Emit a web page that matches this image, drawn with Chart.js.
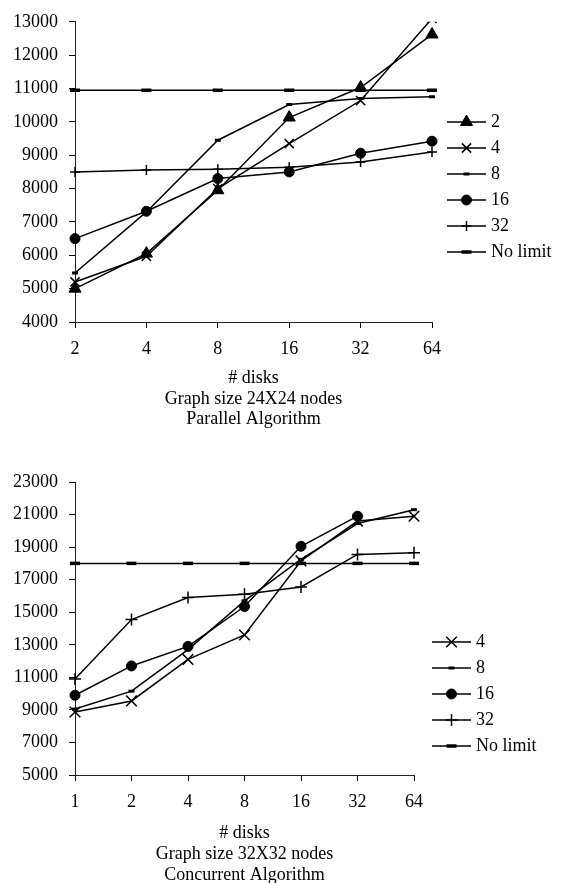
<!DOCTYPE html>
<html>
<head>
<meta charset="utf-8">
<script src="https://cdn.jsdelivr.net/npm/chart.js@4.4.1/dist/chart.umd.min.js"></script>
<style>
  html, body { margin: 0; padding: 0; background: #fff; overflow: hidden; }
  body { width: 563px; height: 883px; position: relative; }
  .box { position: absolute; left: 0; width: 563px; }
  #box1 { top: 0; height: 440px; }
  #box2 { top: 430px; height: 460px; }
</style>
</head>
<body>
<div class="box" id="box1"><canvas id="parallel"></canvas></div>
<div class="box" id="box2"><canvas id="concurrent"></canvas></div>
<script>
// chart 1 - Graph size 24X24 nodes, parallel algorithm
const disks1 = ['2', '4', '8', '16', '32', '64'];
const par2 = [5000, 6050, 7950, 10130, 11030, 12620];
const par4 = [5200, 5970, 8000, 9350, 10640, 13100];
const par8 = [5470, 7300, 9450, 10520, 10700, 10750];
const par16 = [6500, 7320, 8300, 8500, 9060, 9420];
const par32 = [8500, 8560, 8580, 8640, 8800, 9100];
const parNoLimit = [10950, 10950, 10950, 10950, 10950, 10950];
const yTicks1 = [4000, 13000, 1000]; // min, max, step

// chart 2 - Graph size 32X32 nodes, concurrent algorithm
const disks2 = ['1', '2', '4', '8', '16', '32', '64'];
const con4 = [8870, 9550, 12100, 13600, 18150, 20600, 20900];
const con8 = [9050, 10150, 12700, 15700, 18250, 20450, 21300];
const con16 = [9900, 11700, 12900, 15350, 19050, 20900, null];
const con32 = [10900, 14550, 15900, 16100, 16550, 18550, 18650];
const conNoLimit = [18000, 18000, 18000, 18000, 18000, 18000, 18000];
const yTicks2 = [5000, 23000, 2000];

const FONT_FAMILY = '"Liberation Serif", "Times New Roman", serif';
const open = { left: 20, right: 20, top: 20, bottom: 20 };

function series(label, data, pointStyle, radius, pointBorderWidth, clip) {
    return {
        label: label,
        data: data,
        borderColor: '#000',
        backgroundColor: '#000',
        borderWidth: 1.5,
        pointStyle: pointStyle,
        pointRadius: radius,
        pointBorderWidth: pointBorderWidth,
        pointBackgroundColor: '#000',
        pointBorderColor: '#000',
        tension: 0,
        spanGaps: false,
        clip: clip || open
    };
}

// draws legend entries as "line with marker in the middle" like the original
const lineLegend = {
    id: 'lineLegend',
    afterDraw(chart, args, opts) {
        const ctx = chart.ctx;
        ctx.save();
        ctx.font = '18px ' + FONT_FAMILY;
        ctx.textBaseline = 'middle';
        ctx.textAlign = 'left';
        chart.data.datasets.forEach((ds, i) => {
            const y = opts.y + i * opts.gap;
            ctx.strokeStyle = '#000';
            ctx.fillStyle = '#000';
            ctx.lineWidth = 1.5;
            ctx.beginPath();
            ctx.moveTo(opts.x, y);
            ctx.lineTo(opts.x + 39, y);
            ctx.stroke();
            if (Chart.helpers && Chart.helpers.drawPoint) {
                ctx.lineWidth = ds.pointBorderWidth;
                Chart.helpers.drawPoint(ctx, {
                    pointStyle: ds.pointStyle,
                    radius: ds.pointRadius,
                    borderWidth: ds.pointBorderWidth,
                    rotation: 0
                }, opts.x + 19.5, y);
            }
            ctx.fillText(ds.label, opts.x + 44, y);
        });
        ctx.restore();
    }
};

function makeChart(id, labels, datasets, yTicks, geo, titleLines) {
    const ctx = document.getElementById(id).getContext('2d');
    return new Chart(ctx, {
        type: 'line',
        data: { labels: labels, datasets: datasets },
        options: {
            responsive: true,
            maintainAspectRatio: false,
            animation: false,
            events: [],
            layout: { padding: { top: geo.top, right: geo.right, bottom: 0, left: 0 } },
            plugins: {
                legend: { display: false },
                tooltip: { enabled: false },
                lineLegend: { x: geo.legendX, y: geo.legendY, gap: 26 }
            },
            scales: {
                x: {
                    offset: false,
                    grid: { drawOnChartArea: false, color: '#000', tickLength: 6, lineWidth: 1 },
                    border: { color: '#222', width: 1 },
                    ticks: { color: '#000', padding: 10, maxRotation: 0, autoSkip: false,
                             font: { family: FONT_FAMILY, size: 18 } },
                    title: {
                        display: true,
                        text: titleLines,
                        color: '#000',
                        font: { family: FONT_FAMILY, size: 18, lineHeight: 1.15 },
                        padding: { top: 0, bottom: geo.titlePad }
                    },
                    afterFit: scale => { scale.height = geo.xHeight; }
                },
                y: {
                    min: yTicks[0],
                    max: yTicks[1],
                    grid: { drawOnChartArea: false, color: '#000', tickLength: 6, lineWidth: 1 },
                    border: { color: '#222', width: 1 },
                    ticks: { stepSize: yTicks[2], color: '#000', padding: 11,
                             font: { family: FONT_FAMILY, size: 18 },
                             callback: v => String(v) },
                    afterFit: scale => { scale.width = 75; }
                }
            }
        },
        plugins: [lineLegend]
    });
}

makeChart('parallel', disks1, [
    series('2', par2, 'triangle', 7, 1),
    series('4', par4, 'crossRot', 6.5, 1.5, { left: 20, right: 20, top: 0, bottom: 20 }),
    series('8', par8, 'line', 3, 3),
    series('16', par16, 'circle', 5, 1),
    series('32', par32, 'cross', 5, 1.5),
    series('No limit', parNoLimit, 'line', 5, 3.5)
], yTicks1, { top: 17, right: 131, xHeight: 118, titlePad: 10, legendX: 447, legendY: 122 },
   ['# disks', 'Graph size 24X24 nodes', 'Parallel Algorithm']);

makeChart('concurrent', disks2, [
    series('4', con4, 'crossRot', 7.5, 1.5),
    series('8', con8, 'line', 3, 3),
    series('16', con16, 'circle', 5, 1),
    series('32', con32, 'cross', 6, 1.5),
    series('No limit', conNoLimit, 'line', 5, 3.5)
], yTicks2, { top: 52, right: 149, xHeight: 115, titlePad: 4.5, legendX: 432, legendY: 212 },
   ['# disks', 'Graph size 32X32 nodes', 'Concurrent Algorithm']);
</script>
</body>
</html>
